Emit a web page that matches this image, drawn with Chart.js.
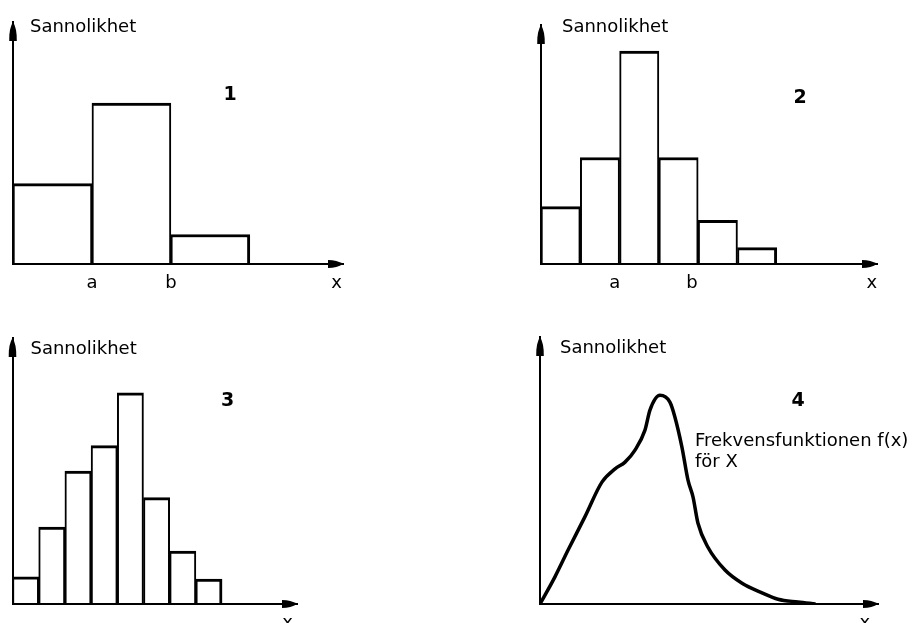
<!DOCTYPE html>
<html lang="sv">
<head>
<meta charset="UTF-8">
<title>Sannolikhet</title>
<script src="https://cdn.jsdelivr.net/npm/chart.js"></script>
<style>
  html, body { margin: 0; padding: 0; background: #fff; }
  #wrap { position: relative; width: 920px; height: 623px; overflow: hidden; }
  #wrap canvas { position: absolute; }
</style>
</head>
<body>
<div id="wrap">
  <canvas id="c1" width="460" height="300" style="left:0;top:0"></canvas>
  <canvas id="c2" width="460" height="300" style="left:460px;top:0"></canvas>
  <canvas id="c3" width="460" height="312" style="left:0;top:311px"></canvas>
  <canvas id="c4" width="460" height="312" style="left:460px;top:311px"></canvas>
</div>
<script>
// 1: tre breda klasser
const bins1 = [0.5, 1.5, 2.5];
const prob1 = [0.30, 0.60, 0.11];
const ticks1 = [1, 2, 4.1];
const tickLabels1 = ['a', 'b', 'x'];

// 2: sex smalare klasser
const bins2 = [0.5, 1.5, 2.5, 3.5, 4.5, 5.5];
const prob2 = [0.105, 0.195, 0.39, 0.195, 0.08, 0.03];
const ticks2 = [1.88, 3.84, 8.42];
const tickLabels2 = ['a', 'b', 'x'];

// 3: åtta klasser
const bins3 = [0.5, 1.5, 2.5, 3.5, 4.5, 5.5, 6.5, 7.5];
const prob3 = [0.034, 0.096, 0.166, 0.198, 0.264, 0.133, 0.066, 0.031];
const ticks3 = [10.5];
const tickLabels3 = ['x'];

// 4: frekvensfunktionen f(x)
const curveX = [0, 0.57, 1.07, 1.71, 2.36, 2.86, 3.24, 3.62, 4.0, 4.19, 4.57, 4.95,
                5.14, 5.41, 5.64, 5.83, 6.02, 6.4, 7.05, 7.7, 8.46, 9.07, 9.83, 10.5];
const curveY = [0, 0.034, 0.0675, 0.109, 0.1525, 0.169, 0.1775, 0.1925, 0.2175, 0.2425, 0.261, 0.2525,
                0.234, 0.196, 0.155, 0.134, 0.101, 0.071, 0.0425, 0.026, 0.014, 0.006, 0.0025, 0];
const ticks4 = [12.38];
const tickLabels4 = ['x'];

Chart.defaults.font.family = 'DejaVu Sans';
Chart.defaults.color = '#000';
Chart.defaults.animation = false;

// pilspetsar på axlarna
const axisArrows = {
  id: 'axisArrows',
  afterDraw(chart) {
    const { ctx, chartArea: { left, right, top, bottom } } = chart;
    ctx.save();
    ctx.fillStyle = '#000';
    ctx.beginPath();
    ctx.moveTo(left, top);
    ctx.quadraticCurveTo(left + 4, top + 6, left + 3.8, top + 19);
    ctx.lineTo(left - 3.8, top + 19);
    ctx.quadraticCurveTo(left - 4, top + 6, left, top);
    ctx.fill();
    ctx.beginPath();
    ctx.moveTo(right, bottom);
    ctx.quadraticCurveTo(right - 6, bottom - 4, right - 15, bottom - 4);
    ctx.lineTo(right - 15, bottom + 4);
    ctx.quadraticCurveTo(right - 6, bottom + 4, right, bottom);
    ctx.fill();
    ctx.restore();
  }
};

// texter i diagrammet
const notes = {
  id: 'notes',
  afterDraw(chart, args, opts) {
    const { ctx, chartArea } = chart;
    ctx.save();
    ctx.fillStyle = '#000';
    ctx.textBaseline = 'alphabetic';
    (opts.items || []).forEach(it => {
      ctx.font = it.font;
      ctx.textAlign = it.align || 'left';
      ctx.fillText(it.text, chartArea.left + it.dx, chartArea.top + it.dy);
    });
    ctx.restore();
  }
};

function makeChart(id, type, datasets, xMax, yMax, tickVals, tickLabels, pad, axisH, items) {
  return new Chart(document.getElementById(id), {
    type: type,
    data: { datasets: datasets },
    plugins: [axisArrows, notes],
    options: {
      responsive: false,
      layout: { padding: pad },
      plugins: {
        legend: { display: false },
        tooltip: { enabled: false },
        notes: { items: items }
      },
      scales: {
        x: {
          type: 'linear',
          min: 0,
          max: xMax,
          offset: false,
          grid: { display: false, drawTicks: false },
          border: { display: true, color: '#000', width: 2, z: 1 },
          ticks: {
            padding: 9,
            font: { size: 18 },
            callback: (v, i) => tickLabels[i]
          },
          afterBuildTicks: s => { s.ticks = tickVals.map(v => ({ value: v })); },
          afterFit: s => { s.height = axisH; }
        },
        y: {
          min: 0,
          max: yMax,
          grid: { display: false, drawTicks: false },
          border: { display: true, color: '#000', width: 2, z: 1 },
          ticks: { display: false },
          afterFit: s => { s.width = 0; }
        }
      }
    }
  });
}

function barSet(bins, probs) {
  const last = probs.length - 1;
  return [{
    data: bins.map((b, i) => ({ x: b, y: probs[i] })),
    backgroundColor: '#fff',
    borderColor: '#000',
    borderWidth: ctx => ({
      top: 3,
      left: 2,
      right: ctx.dataIndex === last ? 3 : 2,
      bottom: 0
    }),
    borderSkipped: false,
    barPercentage: 1,
    categoryPercentage: 1
  }];
}

const labelFont = '18px "DejaVu Sans"';
const digitFont = 'bold 19px "DejaVu Sans"';
const noteFont = '18px "DejaVu Sans"';

makeChart('c1', 'bar', barSet(bins1, prob1), 4.18, 0.903, ticks1, tickLabels1,
  { left: 13, top: 22, right: 117, bottom: 0 }, 36,
  [{ text: 'Sannolikhet', dx: 17, dy: 10, font: labelFont },
   { text: '1', dx: 217, dy: 78, font: digitFont, align: 'center' }]);

makeChart('c2', 'bar', barSet(bins2, prob2), 8.55, 0.4377, ticks2, tickLabels2,
  { left: 81, top: 25, right: 43, bottom: 0 }, 36,
  [{ text: 'Sannolikhet', dx: 21, dy: 7, font: labelFont },
   { text: '2', dx: 259, dy: 78, font: digitFont, align: 'center' }]);

makeChart('c3', 'bar', barSet(bins3, prob3), 10.86, 0.3325, ticks3, tickLabels3,
  { left: 12.5, top: 27, right: 163, bottom: 0 }, 19,
  [{ text: 'Sannolikhet', dx: 18, dy: 16, font: labelFont },
   { text: '3', dx: 215, dy: 68, font: digitFont, align: 'center' }]);

makeChart('c4', 'line', [{
    data: curveX.map((x, i) => ({ x: x, y: curveY[i] })),
    borderColor: '#000',
    borderWidth: 3.5,
    pointRadius: 0,
    fill: false,
    cubicInterpolationMode: 'monotone'
  }], 12.88, 0.334, ticks4, tickLabels4,
  { left: 80, top: 26, right: 42, bottom: 0 }, 19,
  [{ text: 'Sannolikhet', dx: 20, dy: 16, font: labelFont },
   { text: '4', dx: 258, dy: 69, font: digitFont, align: 'center' },
   { text: 'Frekvensfunktionen f(x)', dx: 155, dy: 109, font: noteFont },
   { text: 'för X', dx: 155, dy: 130, font: noteFont }]);
</script>
</body>
</html>
